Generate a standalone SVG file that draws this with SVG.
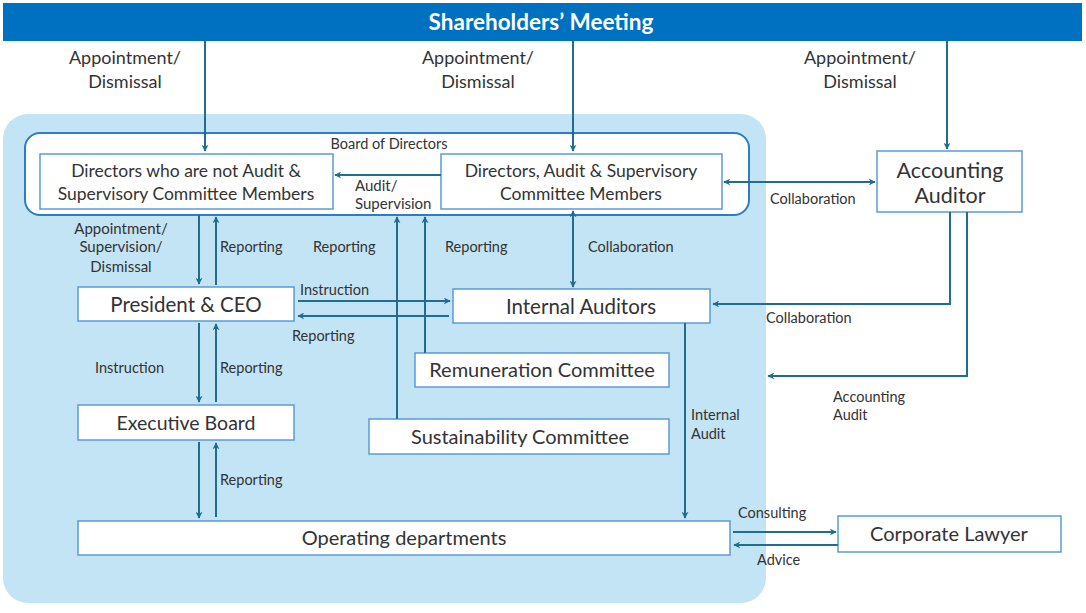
<svg xmlns="http://www.w3.org/2000/svg" width="1086" height="613" viewBox="0 0 1086 613">
<style>
.box{fill:#fff;stroke:#5b9bd5;stroke-width:1.5}
.nt{font-family:Lato,"Open Sans","Liberation Sans",sans-serif;font-size:20px;fill:#333;text-anchor:middle}
.lb{font-family:Lato,"Open Sans","Liberation Sans",sans-serif;font-size:14.5px;fill:#333}
.lc{text-anchor:middle}
.top{font-size:18px}
.sm{font-size:15px}
.dir{font-size:17.5px}
.ln{fill:none;stroke:#1f6d91;stroke-width:2}
</style>
<defs>
<marker id="ah" viewBox="0 0 10 10" refX="9" refY="5" markerWidth="7" markerHeight="7" orient="auto-start-reverse" markerUnits="userSpaceOnUse">
<path d="M0,0 L10,5 L0,10 L3,5 z" fill="#1f6d91"/>
</marker>
</defs>
<rect width="1086" height="613" fill="#fff"/>
<g id="shareholders">
<rect x="3" y="3" width="1079" height="38" fill="#0070c0"/>
<text x="541" y="30" font-family="Lato,'Open Sans','Liberation Sans',sans-serif" font-size="22.5" font-weight="bold" fill="#fff" text-anchor="middle">Shareholders’ Meeting</text>
</g>
<g id="panel">
<rect x="3" y="114" width="763" height="489" rx="25" fill="#c3e4f4"/>
</g>
<g id="board">
<rect x="25" y="133" width="724" height="82" rx="15" fill="#fff" stroke="#2e7dc0" stroke-width="2"/>
<text x="389" y="149" class="lb lc" style="font-size:14.5px">Board of Directors</text>
</g>
<g id="directors-not-audit">
<rect class="box" x="40" y="154" width="293" height="55"/>
<text class="nt dir" x="186" y="176.5">Directors who are not Audit &amp;</text>
<text class="nt dir" x="186" y="199.5">Supervisory Committee Members</text>
</g>
<g id="directors-audit">
<rect class="box" x="441" y="154" width="281" height="55"/>
<text class="nt dir" x="581" y="176.5">Directors, Audit &amp; Supervisory</text>
<text class="nt dir" x="581" y="199.5">Committee Members</text>
</g>
<g id="accounting-auditor">
<rect class="box" x="877" y="151" width="145" height="61"/>
<text class="nt" x="950" y="178" style="font-size:21.5px">Accounting</text>
<text class="nt" x="950" y="203" style="font-size:21.5px">Auditor</text>
</g>
<g id="president">
<rect class="box" x="78" y="287" width="216" height="34"/>
<text class="nt" x="186" y="311.5" style="font-size:20.5px">President &amp; CEO</text>
</g>
<g id="internal-auditors">
<rect class="box" x="453" y="289" width="257" height="34"/>
<text class="nt" x="581" y="313.5" style="font-size:20.5px">Internal Auditors</text>
</g>
<g id="remuneration">
<rect class="box" x="415" y="353" width="254" height="34"/>
<text class="nt" x="542" y="377">Remuneration Committee</text>
</g>
<g id="sustainability">
<rect class="box" x="369" y="419" width="300" height="35"/>
<text class="nt" x="520" y="443.5">Sustainability Committee</text>
</g>
<g id="executive-board">
<rect class="box" x="78" y="405" width="216" height="35"/>
<text class="nt" x="186" y="429.5" style="font-size:19.5px">Executive Board</text>
</g>
<g id="operating">
<rect class="box" x="78" y="521" width="652" height="34"/>
<text class="nt" x="404" y="545">Operating departments</text>
</g>
<g id="lawyer">
<rect class="box" x="838" y="516" width="223" height="36"/>
<text class="nt" x="949" y="541">Corporate Lawyer</text>
</g>
<g id="connectors">
<path class="ln" d="M205,41 V151" marker-end="url(#ah)"/>
<path class="ln" d="M573,41 V151" marker-end="url(#ah)"/>
<path class="ln" d="M947,41 V149" marker-end="url(#ah)"/>
<path class="ln" d="M441,175 H335" marker-end="url(#ah)"/>
<path class="ln" d="M724,182 H875" marker-start="url(#ah)" marker-end="url(#ah)"/>
<path class="ln" d="M950,212 V304 H713" marker-end="url(#ah)"/>
<path class="ln" d="M967,212 V376 H768" marker-end="url(#ah)"/>
<path class="ln" d="M199,215 V284" marker-end="url(#ah)"/>
<path class="ln" d="M216,285 V217" marker-end="url(#ah)"/>
<path class="ln" d="M573,211 V287" marker-start="url(#ah)" marker-end="url(#ah)"/>
<path class="ln" d="M397,419 V217" marker-end="url(#ah)"/>
<path class="ln" d="M425,353 V217" marker-end="url(#ah)"/>
<path class="ln" d="M298,301 H450" marker-end="url(#ah)"/>
<path class="ln" d="M449,316 H298" marker-end="url(#ah)"/>
<path class="ln" d="M685,323 V518" marker-end="url(#ah)"/>
<path class="ln" d="M199,323 V402" marker-end="url(#ah)"/>
<path class="ln" d="M216,402 V324" marker-end="url(#ah)"/>
<path class="ln" d="M199,442 V518" marker-end="url(#ah)"/>
<path class="ln" d="M216,517 V443" marker-end="url(#ah)"/>
<path class="ln" d="M733,532 H836" marker-end="url(#ah)"/>
<path class="ln" d="M838,545 H734" marker-end="url(#ah)"/>
</g>
<g id="labels">
<text class="lb lc top" x="125" y="64">Appointment/</text>
<text class="lb lc top" x="125" y="88">Dismissal</text>
<text class="lb lc top" x="478" y="64">Appointment/</text>
<text class="lb lc top" x="478" y="88">Dismissal</text>
<text class="lb lc top" x="860" y="64">Appointment/</text>
<text class="lb lc top" x="860" y="88">Dismissal</text>
<text class="lb sm" x="355" y="191">Audit/</text>
<text class="lb sm" x="355" y="209">Supervision</text>
<text class="lb" x="770" y="204">Collaboration</text>
<text class="lb lc sm" x="121" y="234">Appointment/</text>
<text class="lb lc sm" x="121" y="252">Supervision/</text>
<text class="lb lc sm" x="121" y="272">Dismissal</text>
<text class="lb" x="220" y="252">Reporting</text>
<text class="lb" x="313" y="252">Reporting</text>
<text class="lb" x="445" y="252">Reporting</text>
<text class="lb" x="588" y="252">Collaboration</text>
<text class="lb" x="300" y="295">Instruction</text>
<text class="lb" x="292" y="341">Reporting</text>
<text class="lb" x="766" y="323">Collaboration</text>
<text class="lb" x="95" y="373">Instruction</text>
<text class="lb" x="220" y="373">Reporting</text>
<text class="lb" x="833" y="402">Accounting</text>
<text class="lb" x="833" y="420">Audit</text>
<text class="lb" x="691" y="420">Internal</text>
<text class="lb" x="691" y="439">Audit</text>
<text class="lb" x="220" y="485">Reporting</text>
<text class="lb" x="738" y="518">Consulting</text>
<text class="lb" x="757" y="565">Advice</text>
</g>
</svg>
